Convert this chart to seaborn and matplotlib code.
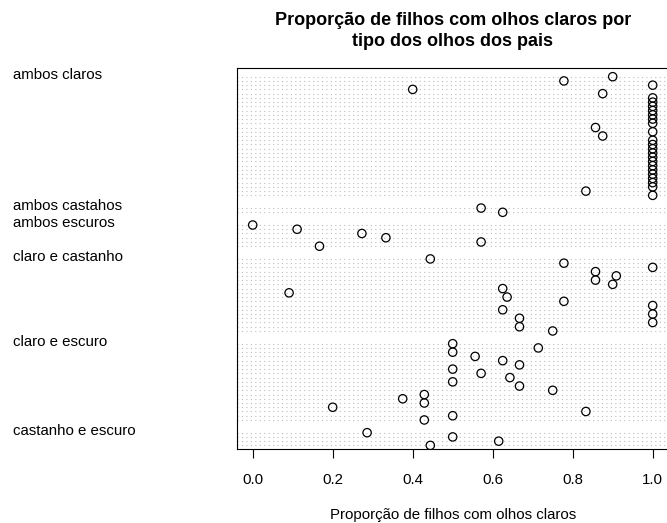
import numpy as np
import pandas as pd
import matplotlib
matplotlib.use("Agg")
import matplotlib.pyplot as plt
import matplotlib.transforms as mtransforms
import seaborn as sns

# ---- data (top to bottom as displayed) ----
groups = ["ambos claros", "ambos castahos", "ambos escuros",
          "claro e castanho", "claro e escuro", "castanho e escuro"]

ambos_claros = [0.9, 0.778, 1.0, 0.4, 0.875,
                1.0, 1.0, 1.0, 1.0, 1.0, 1.0, 1.0,
                0.857, 1.0, 0.875,
                1.0, 1.0, 1.0, 1.0, 1.0, 1.0, 1.0, 1.0, 1.0, 1.0, 1.0, 1.0,
                0.833, 1.0]
ambos_castahos = [0.571, 0.625]
ambos_escuros = [0.0, 0.111, 0.273, 0.333, 0.571, 0.167]
claro_castanho = [0.444, 0.778, 1.0, 0.857, 0.909, 0.857, 0.9, 0.625, 0.091,
                  0.636, 0.778, 1.0, 0.625, 1.0, 0.667, 1.0, 0.667, 0.75]
claro_escuro = [0.5, 0.714, 0.5, 0.556, 0.625, 0.667, 0.5, 0.571, 0.643, 0.5,
                0.667, 0.75, 0.429, 0.375, 0.429, 0.2, 0.833, 0.5, 0.429]
castanho_escuro = [0.286, 0.5, 0.615, 0.444]

series = [ambos_claros, ambos_castahos, ambos_escuros,
          claro_castanho, claro_escuro, castanho_escuro]

xticks = [0.0, 0.2, 0.4, 0.6, 0.8, 1.0]
xtick_labels = ["0.0", "0.2", "0.4", "0.6", "0.8", "1.0"]

title = "Proporção de filhos com olhos claros por\ntipo dos olhos dos pais"
xlabel = "Proporção de filhos com olhos claros"

# ---- build table with row positions (dotchart layout: 2 empty rows between groups) ----
recs = []
label_rows = []
start = 0
for g, vals in zip(groups, series):
    label_rows.append(start - 1)
    for i, v in enumerate(vals):
        recs.append({"grupo": g, "valor": v, "linha": start + i})
    start += len(vals) + 2
df = pd.DataFrame(recs)

# ---- style ----
sns.set_style("white")
plt.rcParams["font.family"] = ["Liberation Sans", "DejaVu Sans"]
plt.rcParams["text.color"] = "black"
plt.rcParams["xtick.color"] = "black"
plt.rcParams["axes.labelcolor"] = "black"

fig = plt.figure(figsize=(6.67, 5.23), dpi=100)
W, H = 667, 523
left, right, top, bottom = 236.7, 668.7, 68.0, 449.3
ax = fig.add_axes([left / W, 1 - bottom / H, (right - left) / W, (bottom - top) / H])

# dotted guide lines for each data row
ax.hlines(df["linha"], -0.04, 1.04, colors="#BEBEBE", linestyles=(0, (1, 3)),
          linewidth=0.8, zorder=1)

sns.scatterplot(data=df, x="valor", y="linha", ax=ax, marker="o", s=36,
                facecolor="none", edgecolor="black", linewidth=0.9, zorder=3,
                legend=False)
ax.collections[-1].set_facecolor("none")

ax.set_xlim(-0.04, 1.04)
ax.set_ylim(87.92, -2.05)
ax.set_yticks([])
ax.set_xticks(xticks)
ax.set_xticklabels(xtick_labels, fontsize=10.8, color="black")
ax.tick_params(axis="x", direction="out", length=6.5, width=0.8, pad=10.5,
               color="black", bottom=True)
for sp in ax.spines.values():
    sp.set_visible(True)
    sp.set_color("black")
    sp.set_linewidth(0.8)
ax.set_xlabel("")
ax.set_ylabel("")

# group labels at left margin
trans = mtransforms.blended_transform_factory(fig.transFigure, ax.transData)
for g, r in zip(groups, label_rows):
    ax.text(12.7 / W, r + 0.6, g, transform=trans, ha="left", va="center",
            fontsize=10.8, color="black", clip_on=False)

ax.set_title(title, fontsize=13, fontweight="bold", pad=16, linespacing=1.28,
             color="black")
fig.text((left + right) / 2 / W, 1 - 515 / H, xlabel, ha="center", va="center",
         fontsize=10.8, color="black")

fig.savefig("out.png", dpi=100)
